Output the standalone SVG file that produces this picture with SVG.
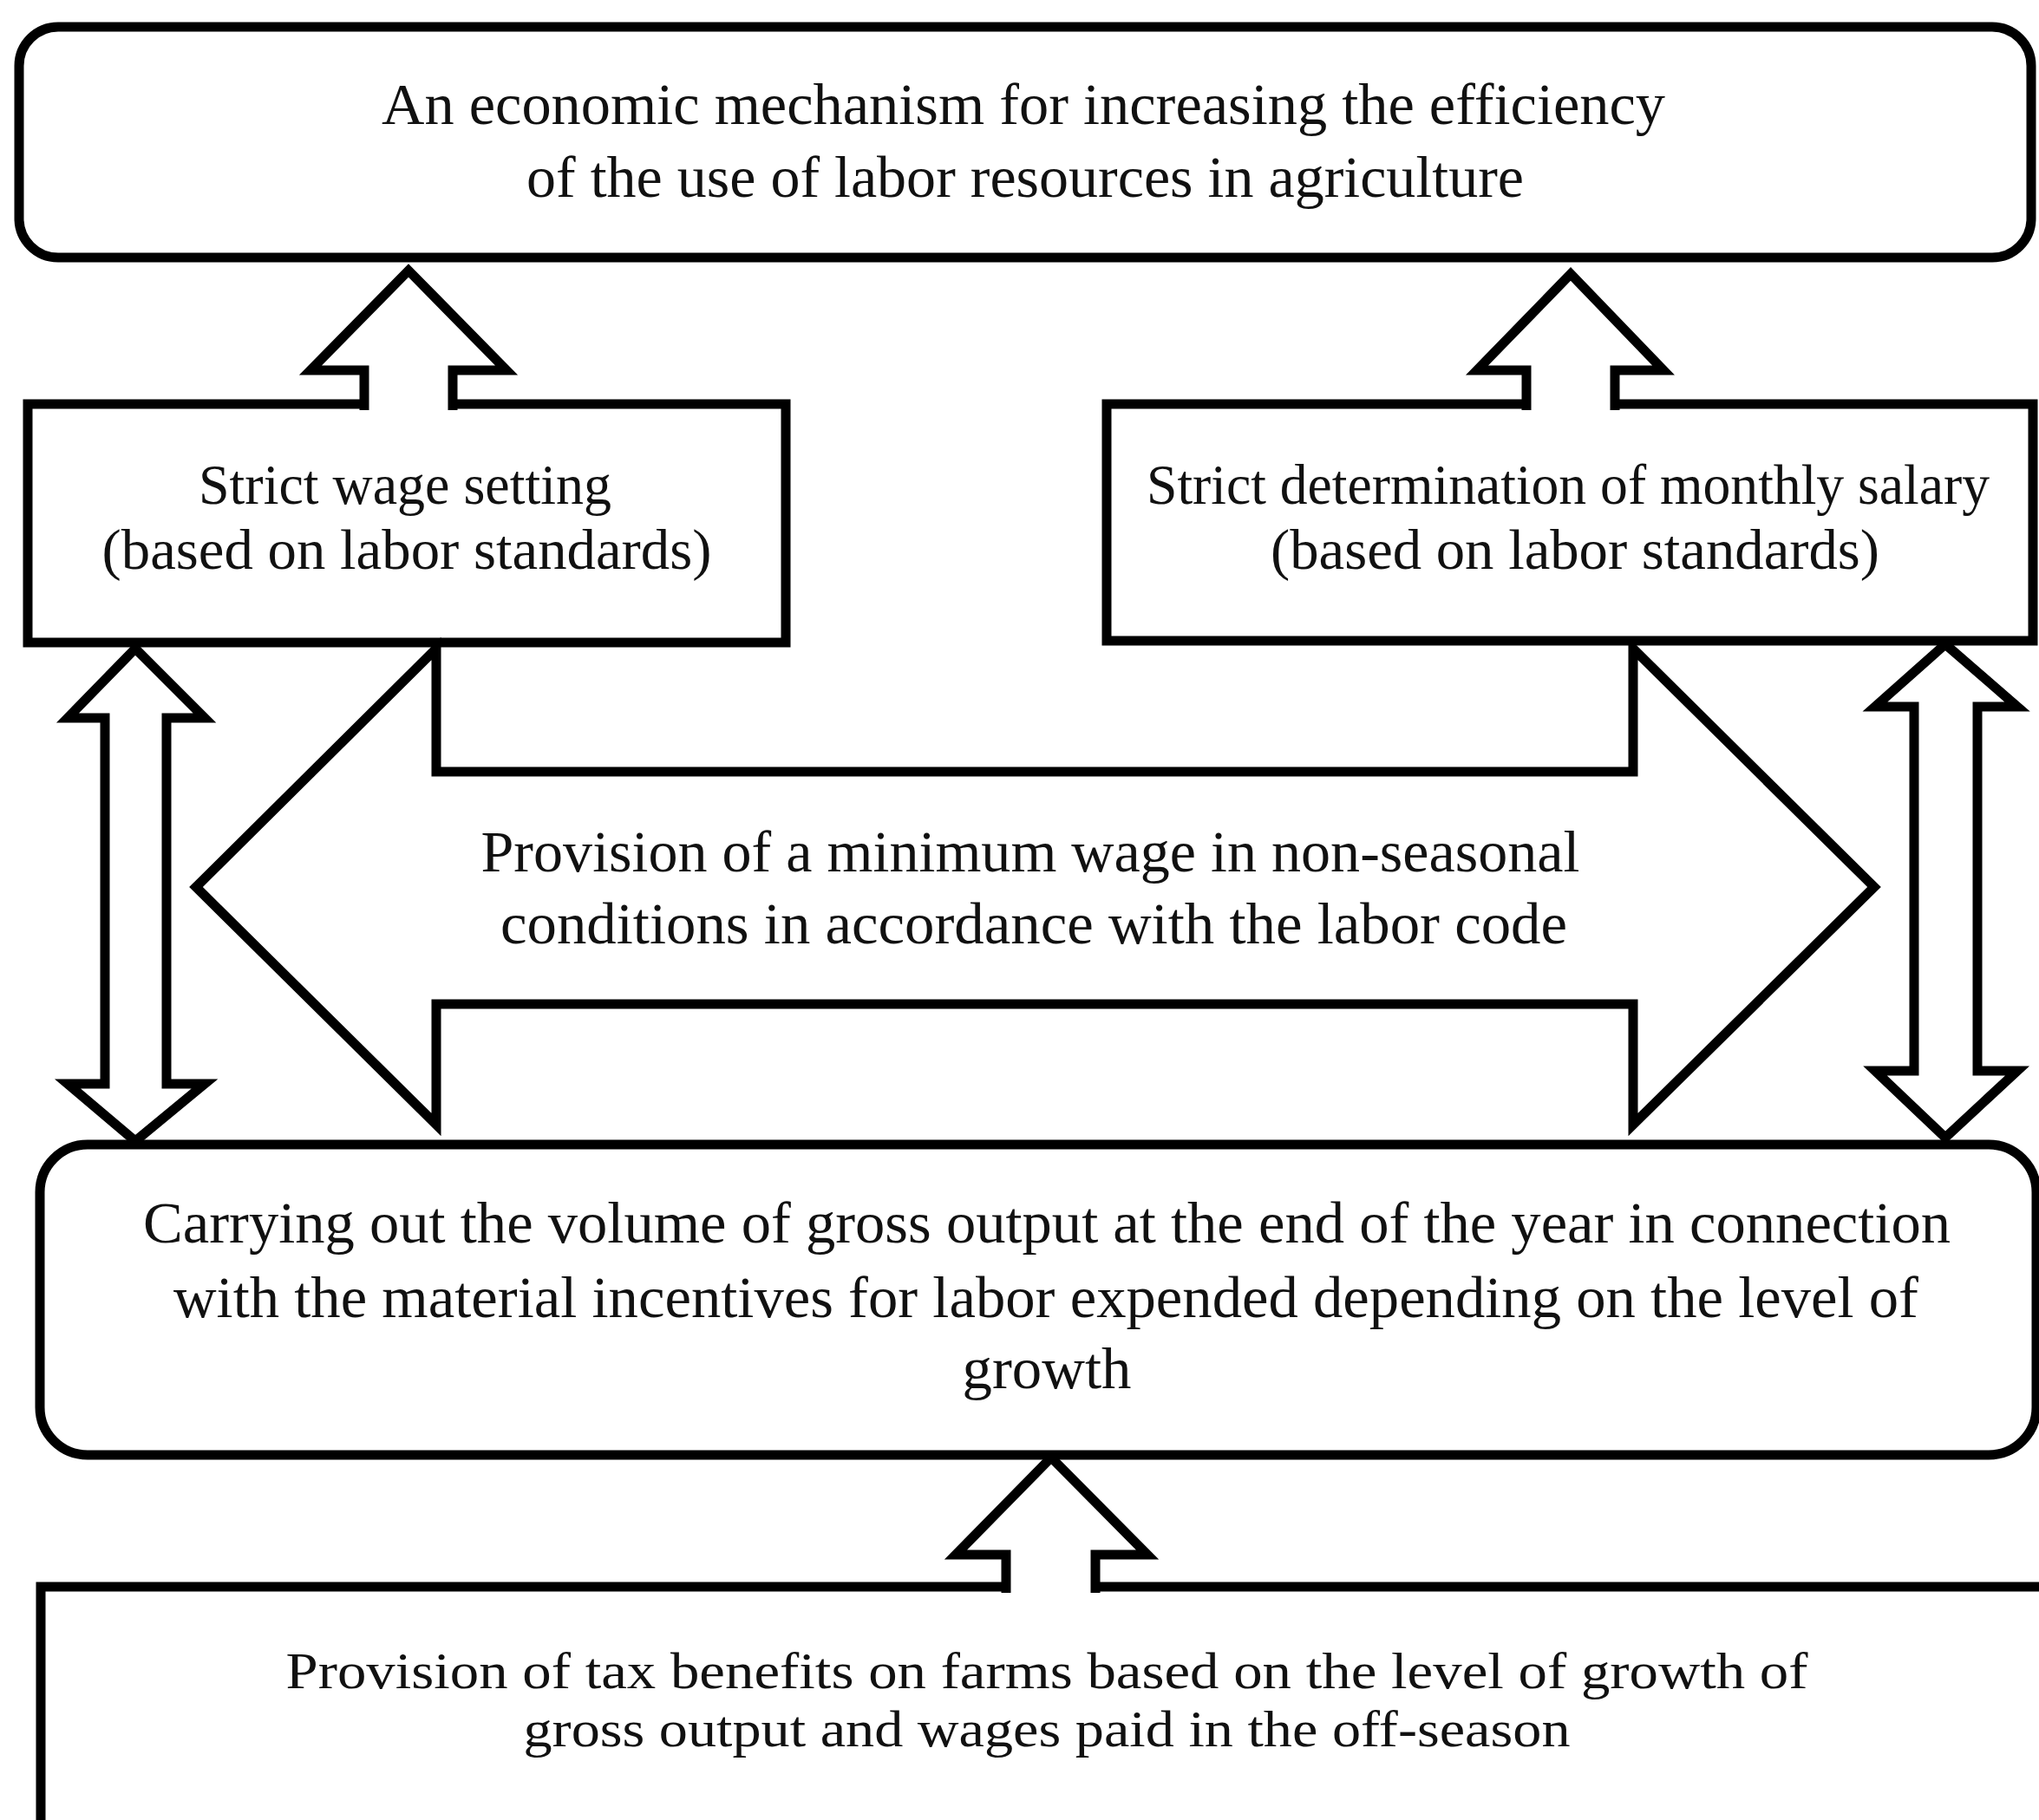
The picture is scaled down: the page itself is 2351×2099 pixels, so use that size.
<svg xmlns="http://www.w3.org/2000/svg" width="2351" height="2099" viewBox="0 0 2351 2099">
<style>
.box{fill:#fff;stroke:#000;stroke-width:11;stroke-linejoin:miter}
.arr{fill:#fff;stroke:#000;stroke-width:11;stroke-linejoin:miter;stroke-miterlimit:10}
.t{font-family:"Liberation Serif","Times New Roman",serif;fill:#111;text-anchor:middle}
.f68{font-size:68px}
.f65{font-size:65px}
.f60{font-size:60px}
</style>
<rect width="2351" height="2099" fill="#fff"/>
<g id="node-top">
<rect class="box" x="22" y="31" width="2320" height="266" rx="45" ry="45"/>
<text class="t f68" x="1180" y="143" textLength="1480" lengthAdjust="spacingAndGlyphs">An economic mechanism for increasing the efficiency</text>
<text class="t f68" x="1182" y="227" textLength="1150" lengthAdjust="spacingAndGlyphs">of the use of labor resources in agriculture</text>
</g>
<g id="node-wage">
<rect class="box" x="32" y="466" width="874" height="275"/>
<text class="t f65" x="467" y="581" textLength="476" lengthAdjust="spacingAndGlyphs">Strict wage setting</text>
<text class="t f65" x="469" y="656" textLength="703" lengthAdjust="spacingAndGlyphs">(based on labor standards)</text>
</g>
<g id="node-salary">
<rect class="box" x="1276" y="466" width="1068" height="273"/>
<text class="t f65" x="1808" y="581" textLength="972" lengthAdjust="spacingAndGlyphs">Strict determination of monthly salary</text>
<text class="t f65" x="1816" y="656" textLength="702" lengthAdjust="spacingAndGlyphs">(based on labor standards)</text>
</g>
<g id="node-output">
<rect class="box" x="46" y="1320" width="2302" height="358" rx="55" ry="55"/>
<text class="t f68" x="1207" y="1433" textLength="2084" lengthAdjust="spacingAndGlyphs">Carrying out the volume of gross output at the end of the year in connection</text>
<text class="t f68" x="1206" y="1519" textLength="2012" lengthAdjust="spacingAndGlyphs">with the material incentives for labor expended depending on the level of</text>
<text class="t f68" x="1207" y="1601" textLength="195" lengthAdjust="spacingAndGlyphs">growth</text>
</g>
<g id="node-tax">
<rect class="box" x="47" y="1830" width="2400" height="400"/>
<text class="t f60" x="1207" y="1947" textLength="1755" lengthAdjust="spacingAndGlyphs">Provision of tax benefits on farms based on the level of growth of</text>
<text class="t f60" x="1207" y="2014" textLength="1207" lengthAdjust="spacingAndGlyphs">gross output and wages paid in the off-season</text>
</g>
<g id="node-minwage">
<path class="arr" d="M226,1023 L503,748 L503,890 L1883,890 L1883,748 L2161,1023 L1883,1297 L1883,1158 L503,1158 L503,1297 Z"/>
<text class="t f68" x="1188" y="1005" textLength="1267" lengthAdjust="spacingAndGlyphs">Provision of a minimum wage in non-seasonal</text>
<text class="t f68" x="1192" y="1088" textLength="1230" lengthAdjust="spacingAndGlyphs">conditions in accordance with the labor code</text>
</g>
<g id="connectors">
<path id="up-wage" class="arr" d="M420,473 L420,427 L358,427 L471,312 L584,427 L522,427 L522,473"/>
<path id="up-salary" class="arr" d="M1760,473 L1760,427 L1703,427 L1811,316 L1918,427 L1862,427 L1862,473"/>
<path id="up-tax" class="arr" d="M1160,1837 L1160,1793 L1102,1793 L1212,1681 L1323,1793 L1263,1793 L1263,1837"/>
<path id="dbl-left" class="arr" d="M156,748 L236,828 L192,828 L192,1250 L236,1250 L156,1316 L78,1250 L121,1250 L121,828 L78,828 Z"/>
<path id="dbl-right" class="arr" d="M2243,743 L2326,815 L2280,815 L2280,1235 L2326,1235 L2243,1312 L2162,1235 L2207,1235 L2207,815 L2162,815 Z"/>
</g>
</svg>
